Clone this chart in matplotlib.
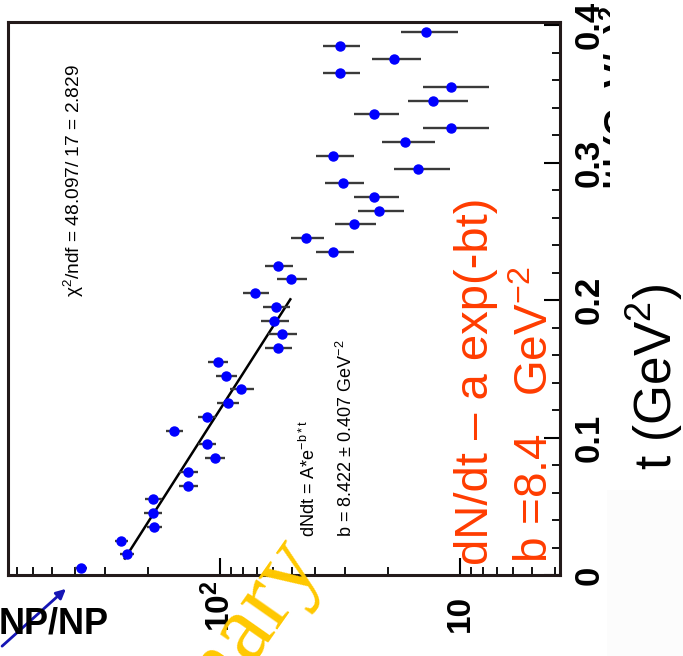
import matplotlib
matplotlib.use('Agg')
import numpy as np
import matplotlib.pyplot as plt
from matplotlib.patches import Rectangle

plt.rcParams['font.family'] = ['Liberation Sans', 'DejaVu Sans']
plt.rcParams['mathtext.fontset'] = 'custom'
plt.rcParams['mathtext.rm'] = 'Liberation Sans'
plt.rcParams['mathtext.bf'] = 'Liberation Sans:bold'
plt.rcParams['mathtext.default'] = 'regular'

t_vals = [0.005, 0.015, 0.025, 0.035, 0.045, 0.055, 0.065, 0.075, 0.085, 0.095,
          0.105, 0.115, 0.125, 0.135, 0.145, 0.155, 0.165, 0.175, 0.185, 0.195,
          0.205, 0.215, 0.225, 0.235, 0.245, 0.255, 0.265, 0.275, 0.285, 0.295,
          0.305, 0.315, 0.325, 0.335, 0.345, 0.355, 0.365, 0.375, 0.385, 0.395]
dndt = [380, 245, 258, 188, 191, 190, 135.5, 136, 105, 113.6,
        155, 113.6, 92.9, 81.8, 94.4, 102.2, 57.5, 55.3, 59.6, 58.6,
        71.3, 50.5, 57.5, 33.7, 43.8, 27.7, 21.8, 22.8, 30.8, 14.9,
        33.7, 16.9, 10.9, 22.8, 12.9, 10.9, 31.7, 18.9, 31.7, 13.9]
dndt_err = [21, 17, 17, 14, 16, 16, 12, 12, 10, 10,
            12.5, 10.2, 9.9, 9.4, 9.5, 10, 7.6, 7.5, 7.8, 7.5,
            8.9, 7.2, 7.7, 6, 7, 5.4, 4.7, 4.8, 5.7, 3.9,
            6, 4.2, 3.3, 4.85, 3.6, 3.3, 5.6, 4.3, 5.6, 3.7]
t_err = 0.003

# fit dN/dt = A*exp(-b*t)
fit_A = 275.5
fit_b = 8.422
fit_range = (0.012, 0.2005)

t_ticks = [0, 0.1, 0.2, 0.3, 0.4]
t_labels = ['0', '0.1', '0.2', '0.3', '0.4']

W, H = 683, 656


def px(x, y):
    return x / W, 1 - y / H


fig = plt.figure(figsize=(6.83, 6.56), dpi=100)
ax = fig.add_axes([8 / W, 81 / H, 552 / W, 553 / H])

ax.errorbar(dndt, t_vals, xerr=dndt_err, yerr=t_err, fmt='o', color='blue',
            ms=6.5, ecolor='#3a3a3a', elinewidth=1.7, capsize=0, zorder=3)

tf = np.linspace(fit_range[0], fit_range[1], 50)
ax.plot(fit_A * np.exp(-fit_b * tf), tf, color='black', lw=1.8, zorder=2)

ax.set_xscale('log')
ax.set_xlim(764, 3.83)
ax.set_ylim(0, 0.4022)

for s in ax.spines.values():
    s.set_linewidth(2.2)
    s.set_color('#231a1a')

ax.yaxis.set_ticks_position('right')
ax.set_yticks(t_ticks)
ax.set_yticks(np.arange(0, 0.41, 0.02), minor=True)
ax.set_yticklabels(t_labels, rotation=90, fontsize=25, fontweight='bold')
plt.setp(ax.get_yticklabels(), va='center', ha='left')
ax.tick_params(axis='y', which='major', direction='in', length=11.5, width=1.5, pad=9)
ax.tick_params(axis='y', which='minor', direction='in', length=5.8, width=1.3)

ax.tick_params(axis='x', which='major', direction='in', length=12, width=1.5,
               labelbottom=False)
ax.tick_params(axis='x', which='minor', direction='in', length=6, width=1.3,
               labelbottom=False)

# bottom tick labels (rotated)
xtr = ax.get_xaxis_transform()
ax.text(100, -57 / 553, '10$^{2}$', transform=xtr, rotation=90, rotation_mode='anchor',
        ha='left', va='center', fontsize=24, fontweight='bold')
ax.text(10, -57 / 553, '10', transform=xtr, rotation=90, rotation_mode='anchor',
        ha='left', va='center', fontsize=24, fontweight='bold')

rot = dict(rotation=90, rotation_mode='anchor', ha='left', va='baseline')

fig.text(*px(80, 297), r'$\chi^{2}$/ndf = 48.097/ 17 = 2.829', fontsize=13.8, **rot)
fig.text(*px(315, 537), r'dNdt = A*e$^{-b*t}$', fontsize=13, **rot)
fig.text(*px(352, 537), r'b = 8.422 $\pm$ 0.407 GeV$^{-2}$', fontsize=13, **rot)

red = '#FF3C00'
fig.text(*px(488, 565), 'dN/dt – a exp(-bt)', fontsize=34, color=red, **rot)
fig.text(*px(548, 563), 'b =8.4   GeV$^{-2}$', fontsize=33, color=red, **rot)

# original axis title, mostly covered by a white box
fig.text(*px(632, 190), '|t| (GeV/c)$^{2}$', fontsize=26, fontweight='bold', zorder=3, **rot)
fig.patches.append(Rectangle(px(610, 480), 73 / W, 480 / H, transform=fig.transFigure,
                             facecolor='white', edgecolor='none', zorder=4))
fig.patches.append(Rectangle(px(607, 656), 76 / W, 166 / H, transform=fig.transFigure,
                             facecolor='#fcfcfc', edgecolor='none', zorder=4))
fig.text(*px(672, 470), 't (GeV$^{2}$)', fontsize=37, zorder=5, **rot)

# y label fragment and arrow
fig.text(*px(-1, 633), 'NP/NP', fontsize=26, fontweight='bold', ha='left', va='baseline')
ax.annotate('', xy=(68, H - 587), xytext=(0, H - 648), xycoords='figure pixels',
            textcoords='figure pixels', annotation_clip=False,
            arrowprops=dict(arrowstyle='-|>', color='#1515b5', lw=2, mutation_scale=14))

fig.text(*px(322, 562), 'Preliminary', fontsize=70, color='#FFC800',
         family='Liberation Serif', rotation=55, rotation_mode='anchor',
         ha='right', va='baseline', zorder=6)

fig.savefig('out.png', dpi=100)
